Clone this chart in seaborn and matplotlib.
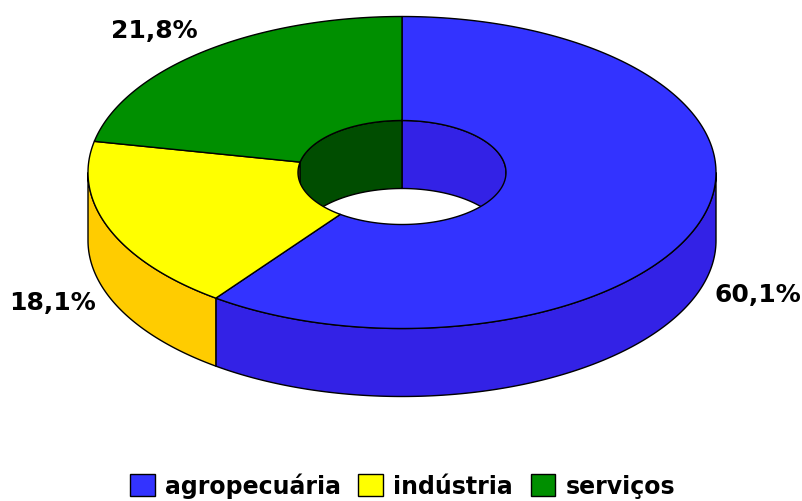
import matplotlib.pyplot as plt
import seaborn as sns
import numpy as np
from matplotlib.patches import Ellipse, Patch

categories = ['agropecuária', 'indústria', 'serviços']
values = [60.1, 18.1, 21.8]
value_labels = ['60,1%', '18,1%', '21,8%']

top_colors = ['#3333FF', '#FFFF00', '#008F00']
side_colors = ['#3322E6', '#FFCC00', '#004D00']

# Geometry of the tilted ring, in pixels
cx, cy = 402, 173.5
rx, ry = 314, 156
hole_rx, hole_ry = 104, 52
depth = 68
label_pos = [(758, 295), (53, 303), (154, 31)]

sns.set_theme(style='white')
plt.rcParams['font.family'] = ['DejaVu Sans']

fig = plt.figure(figsize=(8.03, 5.02), dpi=100)
ax = fig.add_axes([0, 0, 1, 1])
ax.set_xlim(0, 803)
ax.set_ylim(502, 0)
ax.axis('off')

# Slice angles run clockwise from the top
edges = np.concatenate([[0], np.cumsum(values)]) / np.sum(values) * 360


def arc(a0, a1, a, b, dy=0):
    t = np.radians(np.linspace(a0, a1, 200))
    return cx + a * np.sin(t), cy - b * np.cos(t) + dy


def wall(a0, a1, a, b, color, clip=None):
    x0, y0 = arc(a0, a1, a, b)
    x1, y1 = arc(a1, a0, a, b, depth)
    parts = ax.fill(np.r_[x0, x1], np.r_[y0, y1], facecolor=color, edgecolor='black', lw=1)
    if clip is not None:
        parts[0].set_clip_path(clip)


# Inner wall shows through the hole, far side only
hole = Ellipse((cx, cy), 2 * hole_rx, 2 * hole_ry, facecolor='white', edgecolor='none', zorder=0.5)
ax.add_patch(hole)
for a0, a1, color in zip(edges[:-1], edges[1:], side_colors):
    for lo, hi in [(0, 90), (270, 360)]:
        s, e = max(a0, lo), min(a1, hi)
        if s < e:
            wall(s, e, hole_rx, hole_ry, color, clip=hole)

# Outer wall, near side only
for a0, a1, color in zip(edges[:-1], edges[1:], side_colors):
    s, e = max(a0, 90), min(a1, 270)
    if s < e:
        wall(s, e, rx, ry, color)

# Top face
for a0, a1, color in zip(edges[:-1], edges[1:], top_colors):
    xo, yo = arc(a0, a1, rx, ry)
    xi, yi = arc(a1, a0, hole_rx, hole_ry)
    ax.fill(np.r_[xo, xi], np.r_[yo, yi], facecolor=color, edgecolor='black', lw=1)

for (x, y), label in zip(label_pos, value_labels):
    ax.text(x, y, label, ha='center', va='center', fontsize=18, fontweight='bold', color='black')

handles = [Patch(facecolor=c, edgecolor='black', lw=1, label=n) for c, n in zip(top_colors, categories)]
ax.legend(handles=handles, loc='center', bbox_to_anchor=(402.5, 486), bbox_transform=ax.transData,
          ncol=3, frameon=False, prop={'size': 17, 'weight': 'bold'}, labelcolor='black',
          handlelength=1.05, handleheight=1.05, handletextpad=0.42, columnspacing=0.75,
          borderpad=0, borderaxespad=0)

fig.savefig('out.png', dpi=100)
